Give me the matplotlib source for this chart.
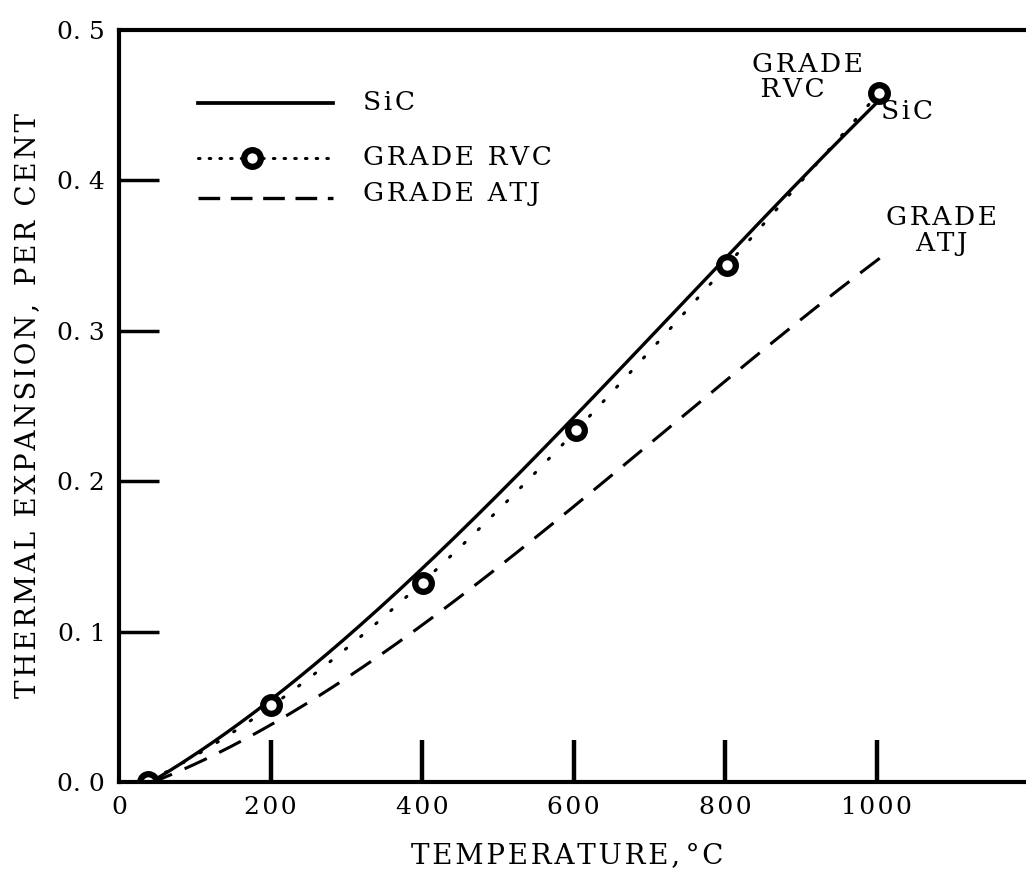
import matplotlib.pyplot as plt
import numpy as np

# temperatures, deg C
t_sic = [40, 200, 400, 600, 800, 1000]
sic = [0.0, 0.053, 0.143, 0.243, 0.347, 0.452]

t_rvc = [38, 200, 401, 603, 803, 1003]
rvc = [0.0, 0.051, 0.132, 0.234, 0.344, 0.458]

t_atj = [40, 200, 400, 600, 800, 1014]
atj = [0.0, 0.036, 0.104, 0.187, 0.263, 0.353]

xticks = [0, 200, 400, 600, 800, 1000]
yticks = [0.0, 0.1, 0.2, 0.3, 0.4, 0.5]
ylabels = ["0. 0", "0. 1", "0. 2", "0. 3", "0. 4", "0. 5"]

plt.rcParams['font.family'] = ['DejaVu Serif', 'DejaVu Sans']


def sp(s, gap='\u200a'):
    # old typewriter look: wide letter spacing
    return gap.join(s)


fig = plt.figure(figsize=(10.26, 8.69), dpi=100)
ax = fig.add_axes([0.116, 0.1001, 0.884, 0.8654])


def smooth(x, y, n=200):
    c = np.polyfit(x, y, 3)
    xs = np.linspace(x[0], x[-1], n)
    return xs, np.polyval(c, xs)


xs, ys = smooth(t_sic, sic)
ax.plot(xs, ys, color='black', lw=2.4, solid_capstyle='round')
xs, ys = smooth(t_rvc, rvc)
ax.plot(xs, ys, color='black', lw=2.2, linestyle=(0, (0.5, 6)), dash_capstyle='round')
ax.plot(t_rvc, rvc, 'o', ms=12, mfc='white', mec='black', mew=4.5)
xs, ys = smooth(t_atj, atj)
ax.plot(xs, ys, color='black', lw=2.2, linestyle=(0, (8, 4.5)))

# legend drawn by hand in axes coords
lx0, lx1, tx = 0.087, 0.236, 0.269
ax.plot([lx0, lx1], [0.903, 0.903], transform=ax.transAxes, color='black', lw=2.7)
ax.plot([lx0, lx1], [0.83, 0.83], transform=ax.transAxes, color='black', lw=2.2,
        linestyle=(0, (0.5, 3)), dash_capstyle='round')
ax.plot([0.147], [0.83], 'o', transform=ax.transAxes, ms=12, mfc='white', mec='black', mew=4.5)
ax.plot([lx0, lx1], [0.776, 0.776], transform=ax.transAxes, color='black', lw=2.4,
        linestyle=(0, (6.5, 3.2)))
fs = 19
for yy, s in [(0.903, "SiC"), (0.83, "GRADE RVC"), (0.783, "GRADE ATJ")]:
    ax.text(tx, yy, sp(s), transform=ax.transAxes, fontsize=fs, va='center')

ax.text(836, 0.469, sp("GRADE") + "\n " + sp("RVC"), fontsize=fs, ha='left', va='center',
        linespacing=1.0)
ax.text(1006, 0.446, sp("SiC"), fontsize=fs, ha='left', va='center')
ax.text(1085, 0.367, sp("GRADE") + "\n" + sp("ATJ"), fontsize=fs, ha='center', va='center',
        linespacing=1.05)

ax.set_xlim(0, 1197)
ax.set_ylim(0, 0.5)
ax.set_xticks(xticks)
ax.set_xticklabels([sp(str(v)) for v in xticks])
ax.set_yticks(yticks)
ax.set_yticklabels(ylabels)
ax.tick_params(axis='x', direction='in', length=30, width=3.2, labelsize=fs - 1, pad=10)
ax.tick_params(axis='y', direction='in', length=29, width=2.5, labelsize=fs - 1, pad=10)
# hide tick at 0 and at the top corner
ax.xaxis.get_major_ticks()[0].tick1line.set_visible(False)
ax.yaxis.get_major_ticks()[0].tick1line.set_visible(False)
ax.yaxis.get_major_ticks()[-1].tick1line.set_visible(False)

for s in ['left', 'bottom', 'top']:
    ax.spines[s].set_linewidth(3)
ax.spines['right'].set_visible(False)

ax.set_xlabel(sp("TEMPERATURE,") + "\u2009" + sp("°C"), fontsize=20)
ax.xaxis.set_label_coords(0.494, -0.081)
ax.set_ylabel(sp("THERMAL EXPANSION,") + "  " + sp("PER CENT"), fontsize=20)
ax.yaxis.set_label_coords(-0.101, 0.5)
ax.yaxis.label.set_va('center')

fig.savefig("out.png", dpi=100)
